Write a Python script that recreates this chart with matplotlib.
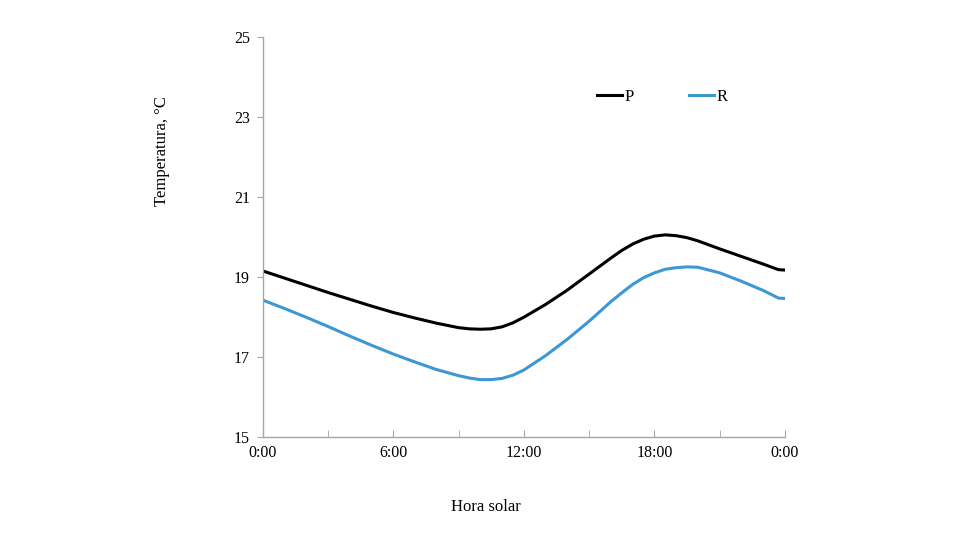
import numpy as np
import matplotlib.pyplot as plt

# hora solar (h) y temperaturas
horas = [0, 1, 2, 3, 4, 5, 6, 7, 8, 9, 9.5, 10, 10.5, 11, 11.5, 12, 13, 14, 15, 16,
         16.5, 17, 17.5, 18, 18.5, 19, 19.5, 20, 21, 22, 23, 23.7, 24]
P = [19.15, 18.97, 18.79, 18.61, 18.44, 18.27, 18.11, 17.97, 17.84, 17.73,
     17.70, 17.69, 17.70, 17.75, 17.85, 17.99, 18.31, 18.67, 19.07, 19.47,
     19.66, 19.82, 19.94, 20.02, 20.05, 20.03, 19.98, 19.90, 19.70, 19.51,
     19.32, 19.18, 19.17]
R = [18.42, 18.21, 17.99, 17.76, 17.52, 17.29, 17.07, 16.87, 16.68, 16.53,
     16.47, 16.43, 16.43, 16.46, 16.54, 16.67, 17.03, 17.44, 17.89, 18.38,
     18.60, 18.81, 18.98, 19.10, 19.19, 19.23, 19.25, 19.24, 19.10, 18.89,
     18.66, 18.47, 18.46]
etiquetas_x = ["0:00", "6:00", "12:00", "18:00", "0:00"]
ticks_y = [15, 17, 19, 21, 23, 25]

plt.rcParams['font.family'] = ['Liberation Serif', 'DejaVu Serif']

fig = plt.figure(figsize=(9.8, 5.6), dpi=100)
ax = fig.add_axes([0.268, 0.22, 0.533, 0.714])

ax.plot(horas, P, color="black", lw=2.2, label="P")
ax.plot(horas, R, color="#3d97d3", lw=2.2, label="R")

ax.set_xlim(0, 24)
ax.set_ylim(15, 25)
ax.set_xticks([0, 6, 12, 18, 24])
ax.set_xticklabels(etiquetas_x)
ax.set_xticks([3, 9, 15, 21], minor=True)
ax.set_yticks(ticks_y)

for s in ["top", "right"]:
    ax.spines[s].set_visible(False)
for s in ["left", "bottom"]:
    ax.spines[s].set_color("#a6a6a6")
    ax.spines[s].set_linewidth(1)

ax.tick_params(axis="x", which="both", direction="in", length=5, color="#a6a6a6",
               labelsize=11.5, pad=6)
ax.tick_params(axis="y", direction="out", length=4, color="#a6a6a6",
               labelsize=11.5, pad=5)

ax.legend(loc="upper left", bbox_to_anchor=(0.612, 0.907), ncol=2, frameon=False,
          fontsize=12, handlelength=1.5, handletextpad=0.15, columnspacing=3.3)

fig.text(0.165, 0.73, "Temperatura, °C", rotation=90, ha="center", va="center", fontsize=12)
fig.text(0.496, 0.095, "Hora solar", ha="center", va="center", fontsize=12)

plt.savefig("out.png")
